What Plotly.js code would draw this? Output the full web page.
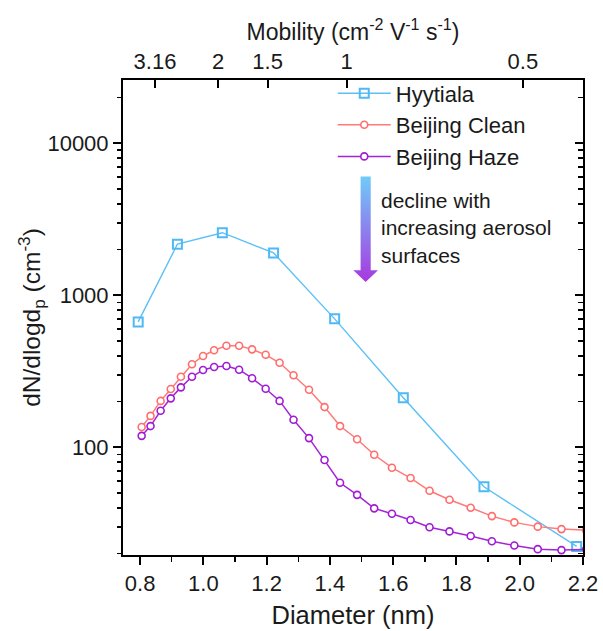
<!DOCTYPE html>
<html>
<head>
<meta charset="utf-8">
<script src="https://cdn.plot.ly/plotly-3.0.1.min.js"></script>
<style>
  html, body { margin: 0; padding: 0; background: #ffffff; }
  #chart { width: 603px; height: 631px; }
</style>
</head>
<body>
<div id="chart"></div>
<script>
// Hyytiala cluster-ion size distribution
const hyytialaDiameter = [0.794, 0.918, 1.060, 1.222, 1.415, 1.632, 1.887, 2.180];
const hyytialaConc = [668, 2170, 2580, 1900, 700, 212, 55, 22.3];

// Beijing size bins (shared by clean and haze days)
const beijingDiameter = [0.805, 0.833, 0.865, 0.897, 0.929, 0.964, 0.999, 1.034, 1.073, 1.113,
  1.154, 1.197, 1.241, 1.285, 1.334, 1.383, 1.432, 1.486, 1.540, 1.596,
  1.655, 1.715, 1.778, 1.845, 1.912, 1.983, 2.057, 2.132, 2.210];
const beijingCleanConc = [136, 161, 202, 242, 291, 352, 399, 435, 466, 466,
  441, 406, 360, 298, 239, 184, 138, 113, 89.4, 73.5,
  62.8, 51.8, 45.2, 40.1, 35.3, 32.1, 30.1, 29.0, 28.5];
const beijingHazeConc = [119, 138, 174, 210, 248, 291, 323, 338, 343, 324,
  285, 243, 202, 152, 115, 82.5, 58.5, 48.7, 39.7, 36.6,
  33.3, 29.8, 28.0, 26.1, 24.1, 22.6, 21.4, 21.1, 21.3];

// Mobility scale on the top axis, placed at the equivalent diameters
const mobilityLabels = ['3.16', '2', '1.5', '1', '0.5'];
const mobilityAtDiameter = [0.847, 1.047, 1.203, 1.453, 2.010];

// Concentration axis ticks
const concMajorTicks = [100, 1000, 10000];
const concMajorLabels = ['100', '1000', '10000'];
const concMinorTicks = [20, 30, 40, 50, 60, 70, 80, 90, 200, 300, 400, 500, 600, 700, 800, 900,
  2000, 3000, 4000, 5000, 6000, 7000, 8000, 9000, 20000];

const FONT = 'Liberation Sans, Arial, sans-serif';
const INK = '#1a1a1a';
const xRange = [0.746, 2.2];
const yRange = [1.292, 4.416];

const traces = [
  {
    name: 'Hyytiala', x: hyytialaDiameter, y: hyytialaConc,
    type: 'scatter', mode: 'lines+markers',
    line: { color: '#5cc0f7', width: 1.4 },
    marker: { symbol: 'square-open', size: 9, color: '#4fb9f6', line: { width: 2, color: '#4fb9f6' } }
  },
  {
    name: 'Beijing Clean', x: beijingDiameter, y: beijingCleanConc,
    type: 'scatter', mode: 'lines+markers',
    line: { color: '#ff7a78', width: 1.5 },
    marker: { symbol: 'circle', size: 7, color: '#ffffff', line: { width: 1.6, color: '#ff6e6c' } }
  },
  {
    name: 'Beijing Haze', x: beijingDiameter, y: beijingHazeConc,
    type: 'scatter', mode: 'lines+markers',
    line: { color: '#a523d6', width: 1.5 },
    marker: { symbol: 'circle', size: 7, color: '#ffffff', line: { width: 1.6, color: '#a01bd4' } }
  },
  // gradient arrow: clean-to-haze decline
  {
    x: [1.497, 1.497, 1.474, 1.513, 1.552, 1.529, 1.529, 1.497],
    y: [6040, 1459, 1459, 1225, 1459, 1459, 6040, 6040],
    xaxis: 'x2', yaxis: 'y2',
    type: 'scatter', mode: 'lines', fill: 'toself',
    line: { width: 0, color: 'rgba(0,0,0,0)' },
    fillcolor: '#8f7be8',
    fillgradient: { type: 'vertical', colorscale: [[0, '#a838df'], [1, '#6fcbfa']] },
    hoverinfo: 'skip', showlegend: false
  },
  // carriers for the minor-tick axes (left outside, right inside)
  { x: [], y: [], xaxis: 'x', yaxis: 'y3', type: 'scatter', mode: 'markers', showlegend: false, hoverinfo: 'skip' },
  { x: [], y: [], xaxis: 'x', yaxis: 'y4', type: 'scatter', mode: 'markers', showlegend: false, hoverinfo: 'skip' }
];

const minorAxis = (side, dir) => ({
  overlaying: 'y', side: side, anchor: 'x', type: 'log', range: yRange,
  tickmode: 'array', tickvals: concMinorTicks, showticklabels: false,
  showgrid: false, zeroline: false, showline: false,
  ticks: dir, ticklen: 5, tickwidth: 1.5, tickcolor: '#000',
  automargin: false
});

const layout = {
  width: 603, height: 631,
  margin: { l: 123, r: 20, t: 80, b: 76 },
  paper_bgcolor: '#ffffff', plot_bgcolor: '#ffffff',
  font: { family: FONT, color: INK, size: 22 },
  showlegend: true,
  legend: {
    x: 0.456, y: 1.016, xanchor: 'left', yanchor: 'top',
    bgcolor: 'rgba(0,0,0,0)', borderwidth: 0,
    font: { family: FONT, size: 22, color: INK },
    itemwidth: 53, tracegroupgap: 0
  },
  xaxis: {
    range: xRange, dtick: 0.2, tick0: 0.8, tickformat: '.1f',
    showgrid: false, zeroline: false,
    showline: true, linecolor: '#000', linewidth: 2,
    ticks: 'outside', ticklen: 8, tickwidth: 2, tickcolor: '#000',
    minor: { dtick: 0.1, ticks: 'outside', ticklen: 5, tickwidth: 1.5, tickcolor: '#000' },
    tickfont: { family: FONT, size: 22, color: INK },
    title: { text: 'Diameter (nm)', font: { family: FONT, size: 25.5, color: INK }, standoff: 11 },
    automargin: false
  },
  xaxis2: {
    overlaying: 'x', side: 'top', anchor: 'y', range: xRange,
    tickmode: 'array', tickvals: mobilityAtDiameter, ticktext: mobilityLabels,
    showgrid: false, zeroline: false,
    showline: true, linecolor: '#000', linewidth: 2,
    ticks: 'inside', ticklen: 8, tickwidth: 2, tickcolor: '#000',
    tickfont: { family: FONT, size: 22, color: INK },
    title: { text: 'Mobility (cm<sup>-2</sup> V<sup>-1</sup> s<sup>-1</sup>)', font: { family: FONT, size: 23, color: INK }, standoff: 2 },
    automargin: false
  },
  yaxis: {
    type: 'log', range: yRange,
    tickmode: 'array', tickvals: concMajorTicks, ticktext: concMajorLabels,
    showgrid: false, zeroline: false,
    showline: true, linecolor: '#000', linewidth: 2,
    ticks: 'outside', ticklen: 8, tickwidth: 2, tickcolor: '#000',
    tickfont: { family: FONT, size: 22, color: INK },
    title: { text: 'dN/dlogd<sub>p</sub> (cm<sup>-3</sup>)', font: { family: FONT, size: 24.5, color: INK }, standoff: 0 },
    automargin: false
  },
  yaxis2: {
    overlaying: 'y', side: 'right', anchor: 'x', type: 'log', range: yRange,
    tickmode: 'array', tickvals: concMajorTicks, showticklabels: false,
    showgrid: false, zeroline: false,
    showline: true, linecolor: '#000', linewidth: 2,
    ticks: 'inside', ticklen: 8, tickwidth: 2, tickcolor: '#000',
    automargin: false
  },
  yaxis3: minorAxis('left', 'outside'),
  yaxis4: minorAxis('right', 'inside'),
  annotations: [
    {
      xref: 'paper', yref: 'paper', x: 0.557, y: 0.688,
      xanchor: 'left', yanchor: 'middle', align: 'left', showarrow: false,
      text: 'decline with<br>increasing aerosol<br>surfaces',
      font: { family: FONT, size: 21, color: INK }
    }
  ]
};

Plotly.newPlot('chart', traces, layout, { displayModeBar: false, staticPlot: true });
</script>
</body>
</html>
